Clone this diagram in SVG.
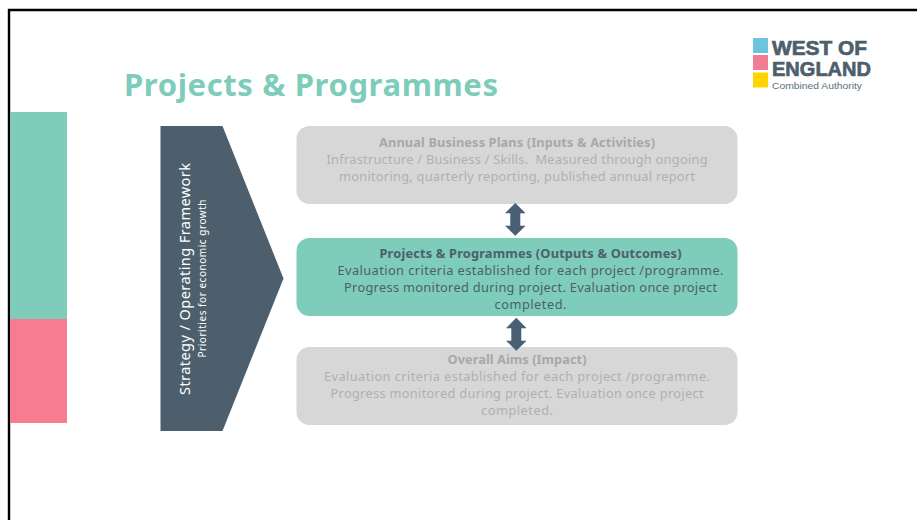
<svg xmlns="http://www.w3.org/2000/svg" width="917" height="520" viewBox="0 0 917 520">
<style>
text{font-family:"Noto Sans","DejaVu Sans",sans-serif;text-anchor:middle}
.t{font-size:12.800px}
.b{font-size:12.800px;font-weight:bold}
.g{fill:#b0b0b0}
.gb{fill:#a8a8a8}
.d{fill:#4d5f6c}
.box{fill:#d7d7d7}
.arr{fill:#4a5f73;stroke:#3f6488;stroke-width:.6}
.logo{text-anchor:start;font-family:"Liberation Sans",sans-serif;font-weight:bold;font-size:21px;fill:#4d5f6c;stroke:#4d5f6c;stroke-width:.7}
</style>
<rect width="917" height="520" fill="#fff"/>
<path d="M9 520V10H917" fill="none" stroke="#000" stroke-width="2.4"/>
<rect x="10" y="112" width="57" height="207" fill="#7eccba"/>
<rect x="10" y="319" width="57" height="104" fill="#f67c90"/>
<text id="title" x="311" y="96" font-size="31" font-weight="bold" fill="#7eccba" textLength="374">Projects &amp; Programmes</text>
<g id="logo">
<rect x="753" y="38" width="15" height="15" fill="#6cc5dc"/>
<rect x="753" y="55" width="15" height="15" fill="#f27c94"/>
<rect x="753" y="72.500" width="15" height="15" fill="#ffd500"/>
<text class="logo" x="772" y="54.500" textLength="95" lengthAdjust="spacingAndGlyphs">WEST OF</text>
<text class="logo" x="772" y="75.500" textLength="99" lengthAdjust="spacingAndGlyphs">ENGLAND</text>
<text x="772" y="89" font-size="9.500" fill="#5d6d79" textLength="90" lengthAdjust="spacingAndGlyphs" style="text-anchor:start;font-family:'Liberation Sans',sans-serif">Combined Authority</text>
</g>
<g id="strategy">
<polygon points="160.500,126 222.500,126 283.500,278.500 222.500,431 160.500,431" fill="#4d5f6c"/>
<text transform="translate(190,279) rotate(-90)" font-size="14.500" fill="#fff" textLength="232">Strategy / Operating Framework</text>
<text transform="translate(205.500,278.500) rotate(-90)" font-size="10" fill="#fff" textLength="158">Priorities for economic growth</text>
</g>
<g id="annual">
<rect class="box" x="296.500" y="126" width="441" height="78" rx="13"/>
<text class="b gb" x="517" y="147" textLength="276">Annual Business Plans (Inputs &amp; Activities)</text>
<text class="t g" x="517" y="164" textLength="381">Infrastructure / Business / Skills. &#160;Measured through ongoing</text>
<text class="t g" x="517" y="181" textLength="356">monitoring, quarterly reporting, published annual report</text>
</g>
<g id="projects">
<rect x="296.500" y="238" width="441" height="78" rx="13" fill="#7eccba"/>
<text class="b d" x="530.500" y="258" textLength="302">Projects &amp; Programmes (Outputs &amp; Outcomes)</text>
<text class="t d" x="530.500" y="274.500" textLength="386">Evaluation criteria established for each project /programme.</text>
<text class="t d" x="530.500" y="291.500" textLength="373">Progress monitored during project. Evaluation once project</text>
<text class="t d" x="530.500" y="308.500" textLength="72">completed.</text>
</g>
<g id="aims">
<rect class="box" x="296.500" y="347" width="441" height="78" rx="13"/>
<text class="b gb" x="517" y="364" textLength="139">Overall Aims (Impact)</text>
<text class="t g" x="517" y="381" textLength="386">Evaluation criteria established for each project /programme.</text>
<text class="t g" x="517" y="397.500" textLength="373">Progress monitored during project. Evaluation once project</text>
<text class="t g" x="517" y="414.500" textLength="72">completed.</text>
</g>
<g id="connectors">
<polygon class="arr" points="515.300,203.200 525,213 520,213 520,226 525,226 515.300,235.500 505.600,226 510.600,226 510.600,213 505.600,213"/>
<polygon class="arr" points="516.300,318 526,328 521,328 521,341 526,341 516.300,350.500 506.600,341 511.600,341 511.600,328 506.600,328"/>
</g>
</svg>
